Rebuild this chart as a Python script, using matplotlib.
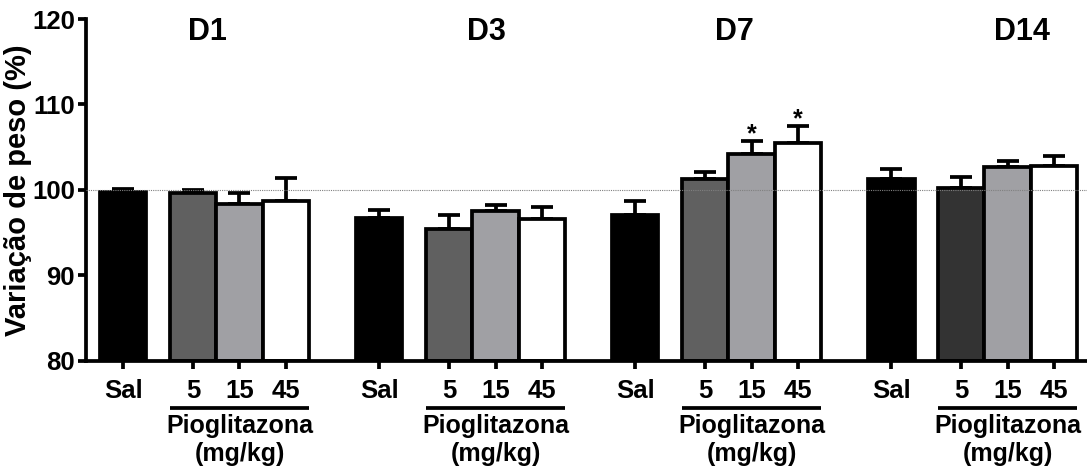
import matplotlib.pyplot as plt
import matplotlib.transforms as mtransforms
import numpy as np

plt.rcParams["font.family"] = ["Liberation Sans", "DejaVu Sans"]
plt.rcParams["font.weight"] = "bold"

days = ["D1", "D3", "D7", "D14"]
groups = ["Sal", "5", "15", "45"]

# mean (%) and upper SEM, one row per day, columns Sal / 5 / 15 / 45
means = [
    [99.8, 99.65, 98.3, 98.7],
    [96.7, 95.4, 97.5, 96.6],
    [97.0, 101.3, 104.2, 105.5],
    [101.3, 100.2, 102.65, 102.8],
]
upper = [
    [100.05, 100.0, 99.65, 101.4],
    [97.6, 97.1, 98.2, 97.95],
    [98.65, 102.05, 105.75, 107.5],
    [102.4, 101.5, 103.35, 103.95],
]
stars = [[], [], ["15", "45"], []]

bar_colors = [
    ["#000000", "#606060", "#a0a0a4", "#ffffff"],
    ["#000000", "#606060", "#a0a0a4", "#ffffff"],
    ["#000000", "#606060", "#a0a0a4", "#ffffff"],
    ["#000000", "#333333", "#a0a0a4", "#ffffff"],
]

LW = 2.7
FS = 18.5

fig = plt.figure(figsize=(10.87, 4.68), dpi=100)
ax = fig.add_axes([0.0791, 0.2293, 0.925, 0.7301])

offsets = np.array([0.0, 1.5, 2.5, 3.5])
group_step = 5.5

tick_pos = []
tick_lab = []
for d, day in enumerate(days):
    xs = d * group_step + offsets
    vals = np.array(means[d])
    errs = np.array(upper[d]) - vals
    ax.errorbar(xs, vals, yerr=[np.zeros_like(errs), errs], fmt="none",
                ecolor="black", elinewidth=LW, capsize=8, capthick=LW, zorder=1)
    ax.bar(xs, vals - 80, bottom=80, width=1.0, color=bar_colors[d],
           edgecolor="black", linewidth=LW, zorder=2)
    for g, lab in enumerate(groups):
        tick_pos.append(xs[g])
        tick_lab.append(lab)
        if lab in stars[d]:
            ax.text(xs[g], upper[d][g] - 0.7, "*", ha="center", va="bottom",
                    fontsize=18, fontweight="bold")

ax.axhline(100, color="#808080", linestyle=(0, (1, 1)), linewidth=0.8, zorder=3)

title_x = [1.81, 7.81, 13.14, 19.31]
for day, tx in zip(days, title_x):
    ax.text(tx, 118.5, day, ha="center", va="center", fontsize=22,
            fontweight="bold")

trans = mtransforms.blended_transform_factory(ax.transData, ax.transAxes)
for d in range(len(days)):
    x0 = d * group_step + 1.0
    x1 = d * group_step + 4.0
    ax.plot([x0, x1], [-0.138, -0.138], color="black", linewidth=LW,
            transform=trans, clip_on=False, solid_capstyle="butt")
    xc = d * group_step + 2.5
    ax.text(xc, -0.19, "Pioglitazona", transform=trans, ha="center",
            va="center", fontsize=18, fontweight="bold")
    ax.text(xc, -0.272, "(mg/kg)", transform=trans, ha="center",
            va="center", fontsize=18, fontweight="bold")

ax.set_xlim(-0.797, 20.8)
ax.set_ylim(80, 120)
ax.set_yticks([80, 90, 100, 110, 120])
ax.set_xticks(tick_pos)
ax.set_xticklabels(tick_lab)
ax.set_ylabel("Variação de peso (%)", fontsize=21, fontweight="bold", labelpad=0)

for side in ["top", "right"]:
    ax.spines[side].set_visible(False)
for side in ["left", "bottom"]:
    ax.spines[side].set_linewidth(LW)
ax.tick_params(axis="both", width=LW, length=6, labelsize=FS)
ax.tick_params(axis="x", pad=7)
ax.tick_params(axis="y", pad=2)

fig.savefig("out.png", dpi=100)
